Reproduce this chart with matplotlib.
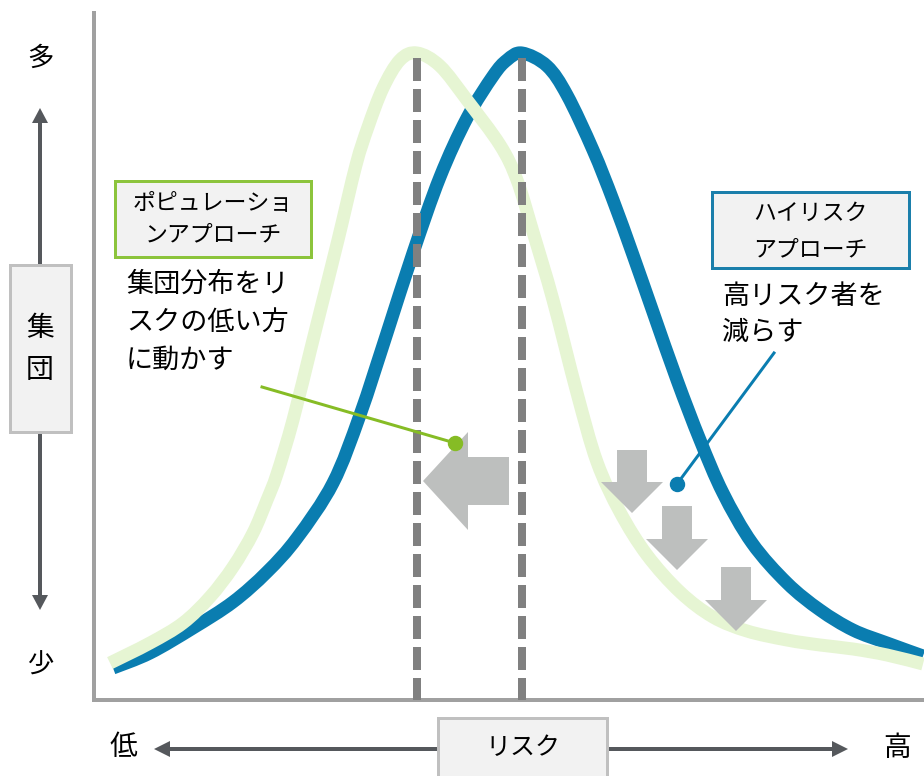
import numpy as np
import matplotlib.pyplot as plt
from matplotlib.patches import Rectangle, FancyArrow, PathPatch
from matplotlib.path import Path

plt.rcParams['font.family'] = ['Noto Sans CJK JP', 'DejaVu Sans']
plt.rcParams['lines.scale_dashes'] = False

# 分布曲線 (横: リスク, 縦: 人数) -- 画面座標で読み取った値
pop_x = [110, 150, 183, 210, 233, 253, 267, 277, 293, 311, 320, 338, 356, 368, 383, 400, 417,
         440, 467, 500, 517, 533, 553, 577, 597, 620, 647, 680, 713, 747, 787, 820, 853, 887, 923]
pop_y = [663, 643, 623, 597, 567, 533, 500, 474, 420, 348, 312, 240, 165, 127, 88, 60, 53,
         66, 100, 145, 180, 232, 300, 393, 462, 512, 555, 592, 617, 631, 640, 645, 649, 655, 664]

hr_x = [113, 150, 193, 233, 267, 297, 333, 360, 387, 413, 440, 467, 493, 507, 522,
        547, 567, 593, 613, 633, 653, 677, 700, 723, 752, 787, 820, 853, 887, 923]
hr_y = [668, 653, 628, 602, 572, 538, 483, 415, 333, 253, 177, 118, 76, 60, 53,
        66, 95, 150, 200, 255, 312, 380, 440, 493, 543, 583, 610, 630, 643, 656]

pop_label = ['ポピュレーショ', 'ンアプローチ']
pop_note = ['集団分布をリ', 'スクの低い方', 'に動かす']
hr_label = ['ハイリスク', 'アプローチ']
hr_note = ['高リスク者を', '減らす']

BLUE = '#0a7db0'
LIGHT_GREEN = '#e6f5d3'
GREEN = '#86bc25'
ARROW_GRAY = '#bdbfbe'
DARK = '#55585c'
px = 0.72  # 1 px in points at dpi 100


def smooth_path(xs, ys):
    # Catmull-Rom -> cubic Bezier so the curve passes through every point
    p = np.column_stack([xs, ys]).astype(float)
    p = np.vstack([p[0], p, p[-1]])
    verts = [p[1]]
    codes = [Path.MOVETO]
    for i in range(1, len(p) - 2):
        c1 = p[i] + (p[i + 1] - p[i - 1]) / 6
        c2 = p[i + 1] - (p[i + 2] - p[i]) / 6
        verts += [c1, c2, p[i + 1]]
        codes += [Path.CURVE4] * 3
    return Path(verts, codes)


fig = plt.figure(figsize=(9.24, 7.76), dpi=100)
ax = fig.add_axes([0, 0, 1, 1])
ax.set_xlim(0, 924)
ax.set_ylim(776, 0)
ax.axis('off')

# 枠 (縦軸・横軸)
ax.plot([94, 94, 924], [13, 700, 700], color='#a0a0a0', lw=4 * px,
        solid_joinstyle='miter', zorder=1)

# 曲線
ax.add_patch(PathPatch(smooth_path(hr_x, hr_y), fill=False, ec=BLUE, lw=13 * px,
                       capstyle='butt', joinstyle='round', zorder=2))
ax.add_patch(PathPatch(smooth_path(pop_x, pop_y), fill=False, ec=LIGHT_GREEN, lw=13 * px,
                       capstyle='butt', joinstyle='round', zorder=3))

# 平均の位置 (破線)
for xs, ys in [(pop_x, pop_y), (hr_x, hr_y)]:
    xm = xs[int(np.argmin(ys))]
    ax.plot([xm, xm], [58, 700], color='#808080', lw=8 * px,
            linestyle=(0, (23 * px, 8 * px)), dash_capstyle='butt', zorder=4)

# 灰色の矢印
ax.add_patch(FancyArrow(509, 481, -86, 0, width=48, head_width=98, head_length=45,
                        length_includes_head=True, color=ARROW_GRAY, lw=0, zorder=5))
for x0, y0, y1 in [(632, 450, 513), (677, 506, 570), (736, 567, 631)]:
    ax.add_patch(FancyArrow(x0, y0, 0, y1 - y0, width=30, head_width=62, head_length=31,
                            length_includes_head=True, color=ARROW_GRAY, lw=0, zorder=5))

# 引き出し線
ax.plot([262, 455], [387, 443], color=GREEN, lw=3 * px, zorder=6)
ax.plot([455], [443], 'o', color=GREEN, ms=14 * px, zorder=6)
ax.plot([774, 677], [353, 484], color=BLUE, lw=3 * px, zorder=6)
ax.plot([677], [484], 'o', color=BLUE, ms=14 * px, zorder=6)

# ラベル枠
ax.add_patch(Rectangle((115, 181), 196, 76, fc='#f2f2f2', ec='#8cc43c', lw=3 * px, zorder=7))
for i, s in enumerate(pop_label):
    ax.text(213, 203 + 32 * i, s, fontsize=16.5, ha='center', va='center', zorder=8)
for i, s in enumerate(pop_note):
    ax.text(126, 284 + 38 * i, s, fontsize=19.5, ha='left', va='center', zorder=8)

ax.add_patch(Rectangle((712, 192), 197, 76, fc='#f2f2f2', ec='#1b7fab', lw=3 * px, zorder=7))
for i, s in enumerate(hr_label):
    ax.text(810, 213 + 37 * i, s, fontsize=16.5, ha='center', va='center', zorder=8)
for i, s in enumerate(hr_note):
    ax.text(722, 297 + 35 * i, s, fontsize=19.5, ha='left', va='center', zorder=8)

# 縦軸 (集団)
ax.add_patch(FancyArrow(40, 265, 0, -157, width=4, head_width=16, head_length=15,
                        length_includes_head=True, color=DARK, lw=0))
ax.add_patch(FancyArrow(40, 432, 0, 178, width=4, head_width=16, head_length=15,
                        length_includes_head=True, color=DARK, lw=0))
ax.add_patch(Rectangle((10, 265), 61, 167, fc='#f2f2f2', ec='#c0c0c0', lw=3 * px, zorder=7))
ax.text(40, 328, '集', fontsize=20, ha='center', va='center', zorder=8)
ax.text(40, 370, '団', fontsize=20, ha='center', va='center', zorder=8)
ax.text(40, 58, '多', fontsize=19, ha='center', va='center')
ax.text(40, 665, '少', fontsize=19, ha='center', va='center')

# 横軸 (リスク)
ax.add_patch(FancyArrow(440, 749, -286, 0, width=4, head_width=16, head_length=16,
                        length_includes_head=True, color=DARK, lw=0))
ax.add_patch(FancyArrow(605, 749, 243, 0, width=4, head_width=16, head_length=16,
                        length_includes_head=True, color=DARK, lw=0))
ax.add_patch(Rectangle((438, 718), 169, 70, fc='#f2f2f2', ec='#c0c0c0', lw=3 * px, zorder=7))
ax.text(523, 748, 'リスク', fontsize=18, ha='center', va='center', zorder=8)
ax.text(123, 747, '低', fontsize=20, ha='center', va='center')
ax.text(897, 748, '高', fontsize=20, ha='center', va='center')

fig.savefig('out.png', dpi=100)
